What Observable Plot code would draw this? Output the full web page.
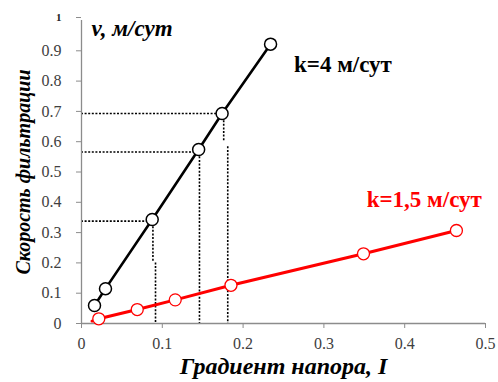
<!DOCTYPE html>
<html>
<head>
<meta charset="utf-8">
<script src="https://cdn.jsdelivr.net/npm/d3@7"></script>
<script src="https://cdn.jsdelivr.net/npm/@observablehq/plot@0.6"></script>
<style>
  html, body { margin: 0; padding: 0; background: #fff; }
  #chart { width: 498px; height: 382px; }
</style>
</head>
<body>
<div id="chart"></div>
<script>
// Series k = 4 m/day
const gradK4 = [0.0161, 0.0297, 0.0875, 0.145, 0.174, 0.234];
const velK4  = [0.0595, 0.115, 0.343, 0.574, 0.693, 0.922];
// Series k = 1.5 m/day
const gradK15 = [0.0214, 0.069, 0.116, 0.185, 0.349, 0.464];
const velK15  = [0.0155, 0.046, 0.078, 0.126, 0.230, 0.307];
// trend line start for k = 1.5
const lineStartK15 = {I: 0.013, v: 0.008};

// dotted guide lines (horizontal: level and point gradient)
const guideLevels = [0.693, 0.566, 0.338];
const guideToX    = [0.174, 0.145, 0.0875];
// dotted vertical guide segments
const vGuideX  = [0.0884, 0.0916, 0.146, 0.176, 0.181];
const vGuideY1 = [0.343, 0.200, 0.574, 0.693, 0.583];
const vGuideY2 = [0.205, 0, 0, 0.600, 0];

const xTicks = [0, 0.1, 0.2, 0.3, 0.4, 0.5];
const yTicks = [0, 0.1, 0.2, 0.3, 0.4, 0.5, 0.6, 0.7, 0.8, 0.9];
const yTopTick = [1];

const xTitle = "Градиент напора, I";
const yTitle = "Скорость фильтрации";
const yUnit = "v, м/сут";
const labels = [
  {I: 0.263, v: 0.83, text: "k=4 м/сут", color: "#000"},
  {I: 0.353, v: 0.385, text: "k=1,5 м/сут", color: "#ff0000"}
];

const k4 = gradK4.map((I, i) => ({I, v: velK4[i]}));
const k15 = gradK15.map((I, i) => ({I, v: velK15[i]}));
const k15line = [lineStartK15, ...k15];
const hGuides = guideLevels.map((v, i) => ({v, x2: guideToX[i]}));
const vGuides = vGuideX.map((I, i) => ({I, y1: vGuideY1[i], y2: vGuideY2[i]}));

const serif = "Tinos, 'Times New Roman', Times, 'Liberation Serif', 'DejaVu Serif', 'Noto Serif', serif";
const axisGray = "#8c8c8c";
const tickText = "#404040";

const plot = Plot.plot({
  width: 498,
  height: 382,
  marginLeft: 81,
  marginRight: 13,
  marginTop: 20,
  marginBottom: 59,
  style: {fontFamily: serif, background: "#fff"},
  x: {domain: [0, 0.5]},
  y: {domain: [0, 1]},
  marks: [
    Plot.ruleY(hGuides, {y: "v", x1: 0, x2: "x2", stroke: "#000", strokeWidth: 1.6, strokeDasharray: "2,1.6"}),
    Plot.ruleX(vGuides, {x: "I", y1: "y1", y2: "y2", stroke: "#000", strokeWidth: 1.6, strokeDasharray: "2,1.6"}),
    Plot.ruleY([0], {stroke: axisGray, strokeWidth: 1.3}),
    Plot.ruleX([0], {stroke: axisGray, strokeWidth: 1.3}),
    Plot.axisX({ticks: xTicks, tickSize: 5, tickPadding: 9, stroke: axisGray, fill: tickText, fontSize: 16, fontFamily: serif, label: null, tickFormat: d => String(d)}),
    Plot.axisY({ticks: yTicks, tickSize: 5, tickPadding: 15, stroke: axisGray, fill: tickText, fontSize: 16, fontFamily: serif, label: null, tickFormat: d => String(d)}),
    Plot.axisY({ticks: yTopTick, tickSize: 5, tickPadding: 15, stroke: axisGray, fill: "#222", fontSize: 11, fontWeight: "bold", fontFamily: serif, dy: -3, label: null, tickFormat: d => String(d)}),
    Plot.line(k15line, {x: "I", y: "v", stroke: "#ff0000", strokeWidth: 3}),
    Plot.line(k4, {x: "I", y: "v", stroke: "#000", strokeWidth: 2.6}),
    Plot.dot(k15, {x: "I", y: "v", r: 6, fill: "#fff", stroke: "#ff0000", strokeWidth: 1.3}),
    Plot.dot(k4, {x: "I", y: "v", r: 6, fill: "#fff", stroke: "#000", strokeWidth: 1.5}),
    Plot.text(labels, {x: "I", y: "v", text: "text", fill: "color", textAnchor: "start", lineAnchor: "bottom", fontSize: 23, fontWeight: "bold", fontFamily: serif}),
    Plot.text([yUnit], {frameAnchor: "top-left", dx: 10, dy: 15, lineAnchor: "bottom", textAnchor: "start", fontSize: 23, fontWeight: "bold", fontStyle: "italic", fontFamily: serif, fill: "#000"}),
    Plot.text([xTitle], {frameAnchor: "bottom", dy: 50, lineAnchor: "bottom", textAnchor: "middle", fontSize: 24, fontWeight: "bold", fontStyle: "italic", fontFamily: serif, fill: "#000"}),
    Plot.text([yTitle], {frameAnchor: "left", dx: -58, rotate: -90, lineAnchor: "middle", textAnchor: "middle", fontSize: 20, fontWeight: "bold", fontStyle: "italic", fontFamily: serif, fill: "#000"})
  ]
});
document.getElementById("chart").appendChild(plot);
</script>
</body>
</html>
